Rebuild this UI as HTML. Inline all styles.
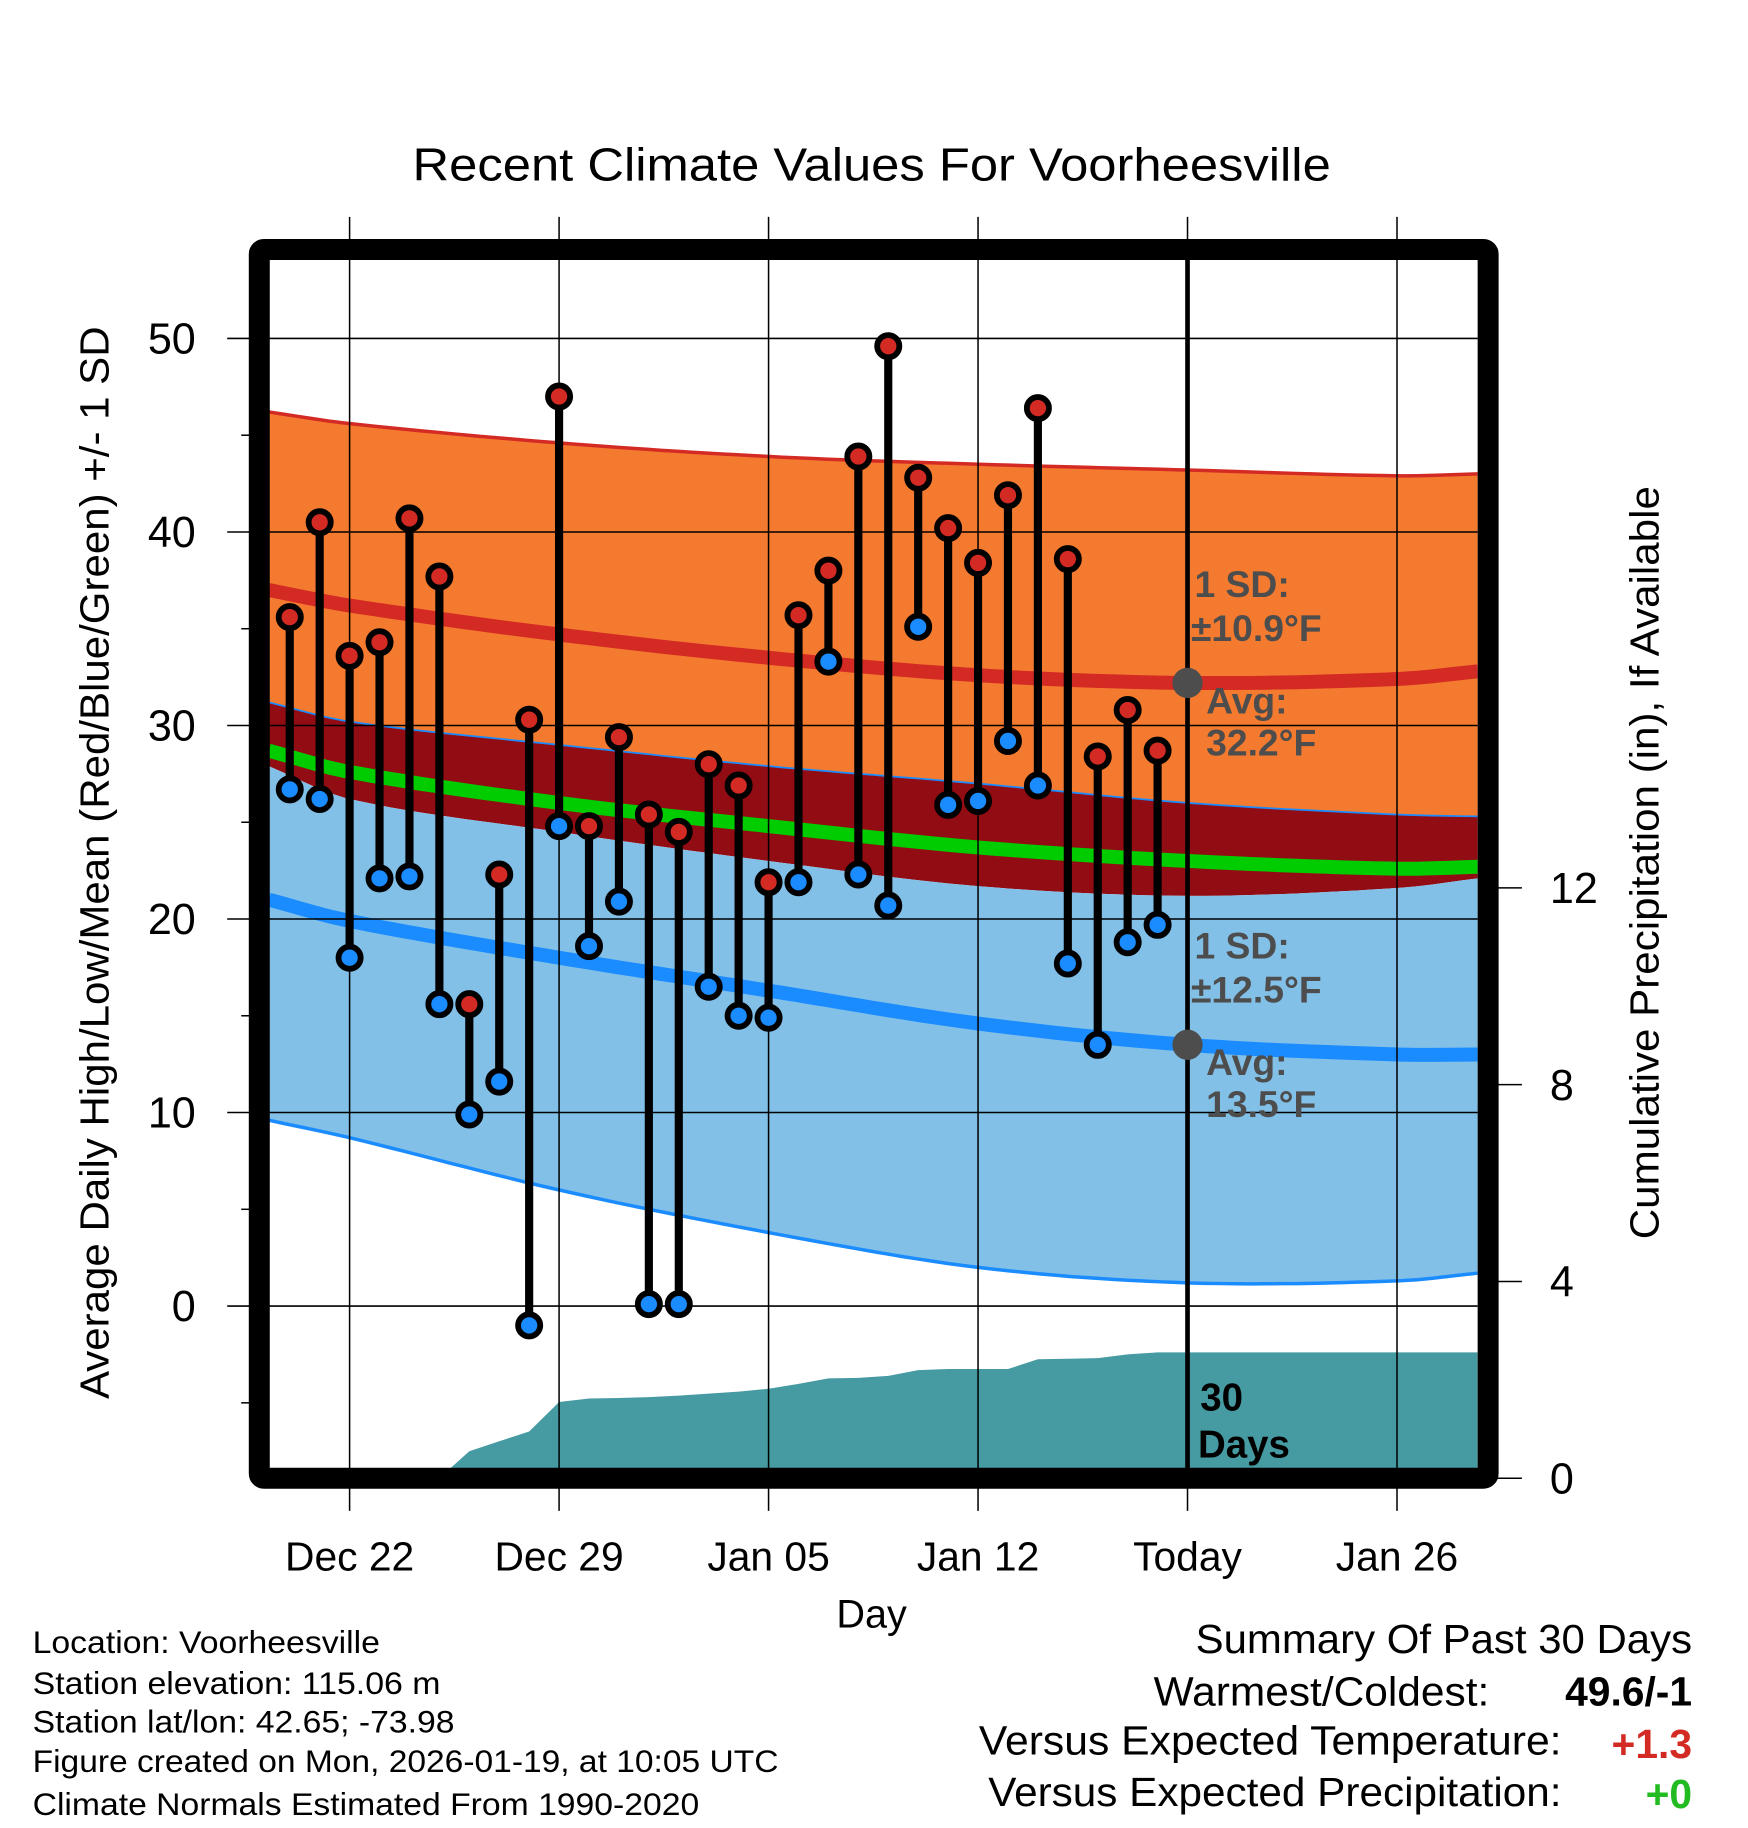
<!DOCTYPE html>
<html><head><meta charset="utf-8"><style>
html,body{margin:0;padding:0;background:#fff;}
svg{display:block;}
text{font-family:"Liberation Sans",Arial,sans-serif;}
</style></head><body>
<svg id="chart" width="1748" height="1828" viewBox="0 0 1500 1568" preserveAspectRatio="none" xmlns="http://www.w3.org/2000/svg">
<defs><clipPath id="plotclip"><rect x="231" y="223" width="1037" height="1037"/></clipPath></defs>
<g id="fills" clip-path="url(#plotclip)"></g>
<g id="grid"></g>
<g id="marks"></g>
<g id="axes"></g>
<text x="748" y="155" font-size="40" text-anchor="middle" textLength="788" lengthAdjust="spacingAndGlyphs">Recent Climate Values For Voorheesville</text>
<text transform="translate(93,740) rotate(-90)" font-size="35" text-anchor="middle" textLength="920" lengthAdjust="spacingAndGlyphs">Average Daily High/Low/Mean (Red/Blue/Green) +/- 1 SD</text>
<text transform="translate(1423,740) rotate(-90)" font-size="35" text-anchor="middle" textLength="646" lengthAdjust="spacingAndGlyphs">Cumulative Precipitation (in), If Available</text>
<text x="748" y="1396" font-size="34" text-anchor="middle">Day</text>
<g font-size="27">
<text x="28" y="1418" textLength="298" lengthAdjust="spacingAndGlyphs">Location: Voorheesville</text>
<text x="28" y="1453" textLength="350" lengthAdjust="spacingAndGlyphs">Station elevation: 115.06 m</text>
<text x="28" y="1486" textLength="362" lengthAdjust="spacingAndGlyphs">Station lat/lon: 42.65; -73.98</text>
<text x="28" y="1520" textLength="640" lengthAdjust="spacingAndGlyphs">Figure created on Mon, 2026-01-19, at 10:05 UTC</text>
<text x="28" y="1557" textLength="572" lengthAdjust="spacingAndGlyphs">Climate Normals Estimated From 1990-2020</text>
</g>
<g font-size="35">
<text x="1026" y="1418" textLength="426" lengthAdjust="spacingAndGlyphs">Summary Of Past 30 Days</text>
<text x="990" y="1463" textLength="288" lengthAdjust="spacingAndGlyphs">Warmest/Coldest:</text>
<text x="1452" y="1463" text-anchor="end" font-weight="bold">49.6/-1</text>
<text x="840" y="1505" textLength="500" lengthAdjust="spacingAndGlyphs">Versus Expected Temperature:</text>
<text x="1452" y="1508" text-anchor="end" font-weight="bold" fill="#d42a24">+1.3</text>
<text x="848" y="1549" textLength="492" lengthAdjust="spacingAndGlyphs">Versus Expected Precipitation:</text>
<text x="1452" y="1551" text-anchor="end" font-weight="bold" fill="#22bb22">+0</text>
</g>
</svg>
<script>
// ---- data ----
const dayLabels = ["Dec 20","Dec 21","Dec 22","Dec 23","Dec 24","Dec 25","Dec 26","Dec 27","Dec 28","Dec 29","Dec 30","Dec 31","Jan 01","Jan 02","Jan 03","Jan 04","Jan 05","Jan 06","Jan 07","Jan 08","Jan 09","Jan 10","Jan 11","Jan 12","Jan 13","Jan 14","Jan 15","Jan 16","Jan 17","Jan 18"];
const dayIndex = [-2,-1,0,1,2,3,4,5,6,7,8,9,10,11,12,13,14,15,16,17,18,19,20,21,22,23,24,25,26,27];
const highs = [35.6,40.5,33.6,34.3,40.7,37.7,15.6,22.3,30.3,47.0,24.8,29.4,25.4,24.5,28.0,26.9,21.9,35.7,38.0,43.9,49.6,42.8,40.2,38.4,41.9,46.4,38.6,28.4,30.8,28.7];
const lows = [26.7,26.2,18.0,22.1,22.2,15.6,9.9,11.6,-1.0,24.8,18.6,20.9,0.1,0.1,16.5,15.0,14.9,21.9,33.3,22.3,20.7,35.1,25.9,26.1,29.2,26.9,17.7,13.5,18.8,19.7];
const precipCum = [0,0,0,0,0,0,0.55,0.75,0.95,1.55,1.62,1.63,1.65,1.68,1.72,1.76,1.82,1.92,2.03,2.04,2.08,2.2,2.22,2.22,2.22,2.42,2.43,2.44,2.52,2.56];
const normDays = [-2.7,0,7,14,21,28,35,37.7];
const highPlusSD = [46.2,45.6,44.6,43.9,43.5,43.2,42.9,43.0];
const highAvg = [37.0,36.2,34.7,33.5,32.6,32.2,32.4,32.8];
const highMinusSD = [31.2,30.2,29.0,27.9,27.0,26.0,25.4,25.3];
const meanAvg = [28.7,27.6,26.0,24.8,23.7,23.0,22.6,22.7];
const lowPlusSD = [27.9,26.2,24.5,23.0,21.7,21.2,21.6,22.1];
const lowAvg = [21.0,19.9,18.0,16.3,14.6,13.5,13.0,13.0];
const lowMinusSD = [9.6,8.7,6.0,3.8,2.0,1.2,1.3,1.7];
const yTicks = [0,10,20,30,40,50];
const y2Ticks = [0,4,8,12];
const xTickDays = [0,7,14,21,28,35];
const xTickLabels = ["Dec 22","Dec 29","Jan 05","Jan 12","Today","Jan 26"];
const todayDay = 28;

// ---- axes ----
const X = d => 300 + 25.68*d;
const Y = v => 1120.3 - 16.6*v;
const YP = v => 1268 - 42.2*v;
const NS = "http://www.w3.org/2000/svg";
function mk(tag, attrs, parent){const e=document.createElementNS(NS,tag);for(const k in attrs)e.setAttribute(k,attrs[k]);parent.appendChild(e);return e;}
const fills=document.getElementById('fills'), grid=document.getElementById('grid'), marks=document.getElementById('marks'), axes=document.getElementById('axes');
// smooth (monotone-ish cubic) interpolation of normals
function interp(arr, d){
  let i=0; while(i<normDays.length-2 && d>normDays[i+1]) i++;
  const x0=normDays[i], x1=normDays[i+1], t=(d-x0)/(x1-x0);
  const m=k=>{const a=Math.max(0,k-1), b=Math.min(arr.length-1,k+1);return (arr[b]-arr[a])/(normDays[b]-normDays[a]);};
  const h=x1-x0, t2=t*t, t3=t2*t;
  return (2*t3-3*t2+1)*arr[i]+(t3-2*t2+t)*h*m(i)+(-2*t3+3*t2)*arr[i+1]+(t3-t2)*h*m(i+1);
}
function linePts(arr){const pts=[];const d0=normDays[0], d1=normDays[normDays.length-1];for(let k=0;k<=80;k++){const d=d0+(d1-d0)*k/80;pts.push(X(d).toFixed(1)+','+Y(interp(arr,d)).toFixed(1));}return pts;}
function band(top,bot){return 'M'+linePts(top).join(' L')+' L'+linePts(bot).reverse().join(' L')+' Z';}

let p;
p=mk('path',{d:band(highPlusSD,highMinusSD),fill:'#f47a2f'},fills);


p=mk('path',{d:band(highMinusSD,lowPlusSD),fill:'#920c14'},fills);


p=mk('path',{d:band(lowPlusSD,lowMinusSD),fill:'#82c0e8'},fills);


const lines=[[highPlusSD,'#d42a24',3,'high-plus-sd-line'],[highMinusSD,'#1a8cff',1.5,'high-minus-sd-line'],[lowMinusSD,'#1a8cff',3,'low-minus-sd-line'],[highAvg,'#d42a24',12,'avg-high-line'],[meanAvg,'#00cc00',12,'avg-mean-line'],[lowAvg,'#1a8cff',12,'avg-low-line']];
lines.forEach(l=>{
  const e=mk('polyline',{points:linePts(l[0]).join(' '),fill:'none',stroke:l[1],'stroke-width':l[2]},fills);
  
  
});
// precipitation area
let pd='M'+X(dayIndex[0])+','+YP(0);
dayIndex.forEach((d,i)=>{pd+=' L'+X(d).toFixed(1)+','+YP(precipCum[i]).toFixed(1);});
pd+=' L1268,'+YP(precipCum[precipCum.length-1]).toFixed(1)+' L1268,'+YP(0)+' Z';
p=mk('path',{d:pd,fill:'#469aa2'},fills);



// grid
yTicks.forEach(v=>{
  const g=mk('line',{x1:195,x2:1268,y1:Y(v),y2:Y(v),stroke:'#000','stroke-width':1.3},grid);
  
  
  const t=mk('text',{x:168,y:Y(v)+13,'font-size':37,'text-anchor':'end'},axes);
  t.textContent=v;
  
  
});
for(let v=-5;v<=45;v+=10){
  const m=mk('line',{x1:207,x2:218,y1:Y(v),y2:Y(v),stroke:'#000','stroke-width':1.3},axes);
  
  
}
xTickDays.forEach((d,i)=>{
  const g=mk('line',{x1:X(d),x2:X(d),y1:186,y2:1296,stroke:'#000','stroke-width':1.3},grid);
  
  
  const t=mk('text',{x:X(d),y:1347,'font-size':35,'text-anchor':'middle'},axes);
  t.textContent=xTickLabels[i];
  
  
});
y2Ticks.forEach(v=>{
  const m=mk('line',{x1:1283,x2:1306,y1:YP(v),y2:YP(v),stroke:'#000','stroke-width':1.3},axes);
  
  
  const t=mk('text',{x:1330,y:YP(v)+13,'font-size':37},axes);
  t.textContent=v;
  
  
});
// today line
let tl=mk('line',{x1:X(todayDay),x2:X(todayDay),y1:223,y2:1260,stroke:'#000','stroke-width':4},marks);



// stems + markers
dayIndex.forEach((d,i)=>{
  const s=mk('line',{x1:X(d),x2:X(d),y1:Y(highs[i]),y2:Y(lows[i]),stroke:'#000','stroke-width':7},marks);
  
  
});
dayIndex.forEach((d,i)=>{
  const h=mk('circle',{cx:X(d),cy:Y(highs[i]),r:9.5,fill:'#d42a24',stroke:'#000','stroke-width':5},marks);
  
  
  const l=mk('circle',{cx:X(d),cy:Y(lows[i]),r:9.5,fill:'#1a8cff',stroke:'#000','stroke-width':5},marks);
  
  
});
// avg dots at today
[highAvg[5],lowAvg[5]].forEach(v=>{
  const c=mk('circle',{cx:X(todayDay),cy:Y(v),r:13,fill:'#4d4d4d'},marks);
  
  
});
// annotations
const ann=[['1 SD:',1025,512],['\u00b110.9\u00b0F',1022,550],['Avg:',1035,612],['32.2\u00b0F',1035,648],['1 SD:',1025,822],['\u00b112.5\u00b0F',1022,860],['Avg:',1035,922],['13.5\u00b0F',1035,958]];
ann.forEach(a=>{
  const t=mk('text',{x:a[1],y:a[2],'font-size':32,'font-weight':'bold',fill:'#4d4d4d'},marks);
  t.textContent=a[0];
  
  
});
[['30',1030,1210],['Days',1028,1250]].forEach(a=>{
  const t=mk('text',{x:a[1],y:a[2],'font-size':33,'font-weight':'bold',fill:'#000'},marks);
  t.textContent=a[0];
  
  
});
// frame
let fr=mk('rect',{x:222.5,y:214,width:1054.5,height:1054,fill:'none',stroke:'#000','stroke-width':18,rx:4},axes);


</script>
</body></html>
